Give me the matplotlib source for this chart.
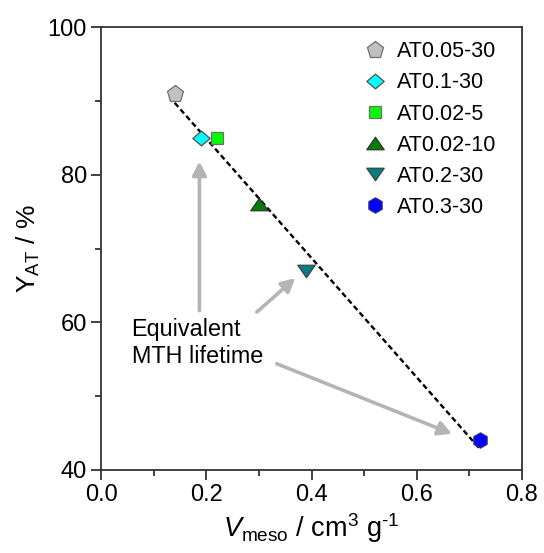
import numpy as np
import matplotlib
matplotlib.use("Agg")
import matplotlib.pyplot as plt
from matplotlib.path import Path

plt.rcParams["font.family"] = ["Liberation Sans", "DejaVu Sans"]
plt.rcParams["mathtext.fontset"] = "custom"
plt.rcParams["mathtext.rm"] = "Liberation Sans"
plt.rcParams["mathtext.it"] = "Liberation Sans:italic"
plt.rcParams["mathtext.bf"] = "Liberation Sans:bold"

# Samples: mesopore volume vs. AT yield
samples = ["AT0.05-30", "AT0.1-30", "AT0.02-5", "AT0.02-10", "AT0.2-30", "AT0.3-30"]
v_meso = [0.14, 0.19, 0.22, 0.30, 0.39, 0.72]
y_at = [91, 85, 85, 76, 67, 44]


def closed(verts):
    verts = list(verts) + [verts[0]]
    codes = [Path.MOVETO] + [Path.LINETO] * (len(verts) - 2) + [Path.CLOSEPOLY]
    return Path(verts, codes)


# Slightly wide marker shapes
tri_up = closed([(0, 0.72), (-1, -0.72), (1, -0.72)])
tri_dn = closed([(0, -0.72), (-1, 0.72), (1, 0.72)])
diamond = closed([(0, 0.85), (-1, 0), (0, -0.85), (1, 0)])
ang = np.deg2rad(np.arange(90, 450, 60))
hexagon = closed([(np.cos(a), np.sin(a)) for a in ang])

markers = ["p", diamond, "s", tri_up, tri_dn, hexagon]
sizes = [12.5, 12.5, 9.3, 12.5, 12.5, 11.0]
faces = ["#c0c0c0", "#00ffff", "#00ff00", "#008000", "#008080", "#0000ff"]
edges = ["#707070", "#505050", "#707070", "#303030", "#404040", "#303080"]

fig = plt.figure(figsize=(5.44, 5.53), dpi=100)
ax = fig.add_axes([101 / 544, 1 - 470 / 553, 421 / 544, 442.7 / 553])

# Linear trend across the samples
coef = np.polyfit(v_meso, y_at, 1)
xs = np.array([min(v_meso), max(v_meso)])
ax.plot(xs, np.polyval(coef, xs), color="black", lw=1.7,
        ls=(0, (2.3, 1.4)), zorder=2)

for name, x, y, m, s, fc, ec in zip(samples, v_meso, y_at, markers, sizes, faces, edges):
    ax.plot([x], [y], ls="none", marker=m, ms=s, mfc=fc, mec=ec, mew=0.9,
            label=name, zorder=3)

# Arrows pointing at samples of equivalent MTH lifetime
arrow_kw = dict(arrowstyle="-|>,head_length=0.8,head_width=0.42",
                color="#b4b4b4", lw=2.6, shrinkA=0, shrinkB=0)
ax.annotate("", xy=(0.187, 81.8), xytext=(0.187, 61.6),
            arrowprops=arrow_kw)
ax.annotate("", xy=(0.369, 66.0), xytext=(0.296, 61.4),
            arrowprops=arrow_kw)
ax.annotate("", xy=(0.667, 44.9), xytext=(0.334, 54.4),
            arrowprops=arrow_kw)
ax.text(0.058, 60.6, "Equivalent\nMTH lifetime", fontsize=16.8,
        ha="left", va="top", linespacing=1.22)

ax.set_xlim(0, 0.8)
ax.set_ylim(40, 100)
ax.set_xticks([0.0, 0.2, 0.4, 0.6, 0.8])
ax.set_xticks([0.1, 0.3, 0.5, 0.7], minor=True)
ax.set_yticks([40, 60, 80, 100])
ax.set_yticks([50, 70, 90], minor=True)
ax.set_xticklabels(["0.0", "0.2", "0.4", "0.6", "0.8"])
ax.tick_params(which="both", direction="out", top=False, right=False,
               labelsize=17, width=1.3, color="#333333")
ax.tick_params(which="major", length=7, pad=3)
ax.tick_params(which="minor", length=4)
for sp in ax.spines.values():
    sp.set_linewidth(1.3)
    sp.set_color("#333333")

ax.set_xlabel(r"$\mathit{V}_{\mathrm{meso}}$ / cm$^{3}$ g$^{\text{-}1}$",
              fontsize=19.5, labelpad=4)
ax.set_ylabel(r"Y$_{\mathrm{AT}}$ / %", fontsize=19, labelpad=4)

ax.legend(loc="upper right", bbox_to_anchor=(0.985, 1.012), frameon=False,
          fontsize=15.5, numpoints=1, handlelength=1.0, handletextpad=0.5,
          labelspacing=0.47, borderaxespad=0.5)

fig.savefig("out.png", dpi=100)
